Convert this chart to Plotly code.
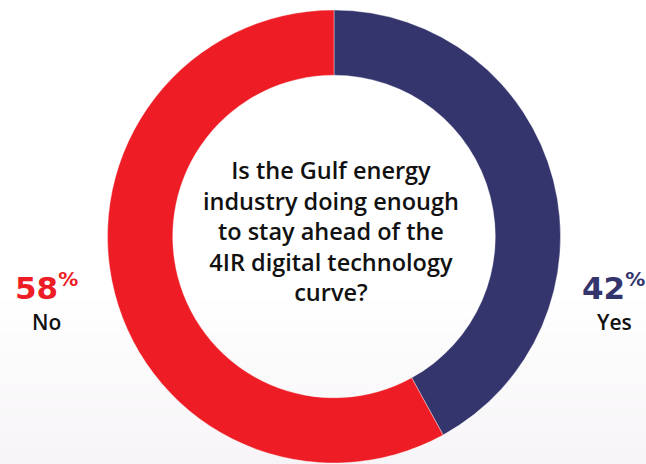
import plotly.graph_objects as go

labels = ["Yes", "No"]
values = [42, 58]
colors = ["#35356D", "#EE1D25"]
question = ["Is the Gulf energy", "industry doing enough", "to stay ahead of the",
            "4IR digital technology", "curve?"]

W, H = 646, 464
cx, cy, r = 334, 236.5, 226.5

fig = go.Figure()
fig.add_trace(go.Pie(
    labels=labels, values=values, hole=0.712, sort=False, direction="clockwise",
    rotation=0, marker=dict(colors=colors, line=dict(color="rgba(255,255,255,0.6)", width=0.6)),
    textinfo="none", hoverinfo="label+percent", showlegend=False,
    domain=dict(x=[(cx - r) / W, (cx + r) / W], y=[(H - cy - r) / H, (H - cy + r) / H]),
))

# faint background gradient at the bottom
shapes = []
steps = 20
y0 = 300
for i in range(steps):
    ya = y0 + (H - y0) * i / steps
    yb = y0 + (H - y0) * (i + 1) / steps + 0.5
    t = (i + 1) / steps
    g = 255 - 8 * t
    shapes.append(dict(type="rect", xref="paper", yref="paper", layer="below",
                       x0=0, x1=1, y0=max(0, 1 - yb / H), y1=1 - ya / H,
                       fillcolor=f"rgb({g:.0f},{g - 2.5 * t:.0f},{g:.0f})", line=dict(width=0)))

pct = "<sup><span style='font-size:20px'>%</span></sup>"
ann = [
    dict(x=331 / W, y=1 - 231 / H, xref="paper", yref="paper", showarrow=False,
         text="<br>".join(question), align="center", xanchor="center", yanchor="middle",
         font=dict(family="Open Sans", size=23.5, color="#111111", weight=600)),
    dict(x=46.5 / W, y=1 - 286 / H, xref="paper", yref="paper", showarrow=False,
         text="58" + pct, xanchor="center", yanchor="middle",
         font=dict(family="DejaVu Sans", size=31, color=colors[1], weight=700)),
    dict(x=47 / W, y=1 - 322 / H, xref="paper", yref="paper", showarrow=False,
         text="No", xanchor="center", yanchor="middle",
         font=dict(family="Open Sans", size=21, color="#111111", weight=600)),
    dict(x=613 / W, y=1 - 286 / H, xref="paper", yref="paper", showarrow=False,
         text="42" + pct, xanchor="center", yanchor="middle",
         font=dict(family="DejaVu Sans", size=31, color=colors[0], weight=700)),
    dict(x=614 / W, y=1 - 322 / H, xref="paper", yref="paper", showarrow=False,
         text="Yes", xanchor="center", yanchor="middle",
         font=dict(family="Open Sans", size=21, color="#111111", weight=600)),
]

fig.update_layout(
    width=W, height=H, margin=dict(l=0, r=0, t=0, b=0),
    paper_bgcolor="white", plot_bgcolor="white",
    shapes=shapes, annotations=ann,
)
fig.write_html("out.html", config={"displayModeBar": False},
               post_script="document.body.style.margin='0';document.body.style.overflow='hidden';")
